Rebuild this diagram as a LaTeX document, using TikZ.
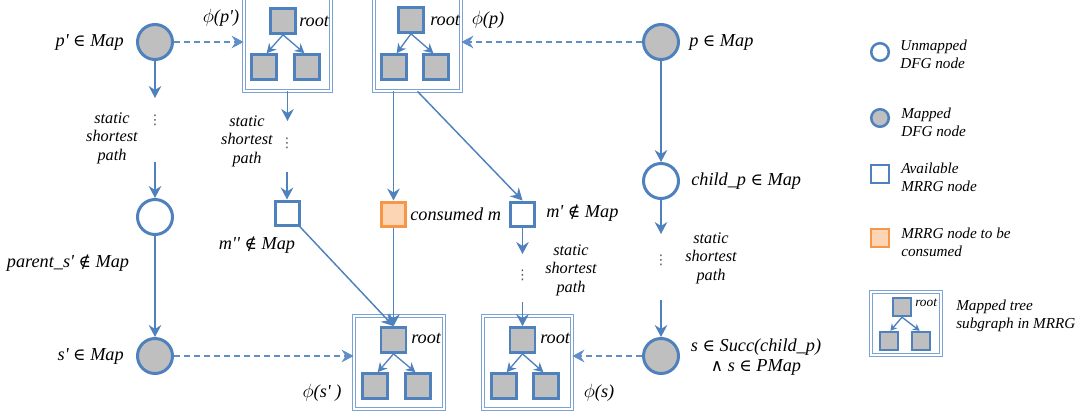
\documentclass[tikz,border=0pt]{standalone}
\usepackage{fontspec}
\setmainfont{Liberation Serif}
\newfontfamily\symf[Scale=0.92]{DejaVu Serif}
\newfontfamily\dotf{DejaVu Sans}
\usetikzlibrary{arrows.meta}
\definecolor{myblue}{RGB}{79,129,189}
\definecolor{dashblue}{RGB}{95,142,200}
\definecolor{boxblue}{RGB}{125,163,212}
\definecolor{mygray}{RGB}{191,191,191}
\definecolor{myorange}{RGB}{247,150,70}
\definecolor{lightorange}{RGB}{252,213,180}
\newcommand{\q}{\textquotesingle}
\newcommand{\isin}{{\symf ∈}}
\newcommand{\notinn}{{\symf ∉}}
\newcommand{\andd}{{\symf ∧}}
\tikzset{
  dfg/.style={circle, draw=myblue, line width=2.25pt, minimum size=26.25pt, inner sep=0pt},
  mapped/.style={dfg, fill=mygray},
  unmapped/.style={dfg, fill=white},
  sq/.style={rectangle, draw=myblue, line width=2.25pt, minimum size=18pt, inner sep=0pt},
  treesq/.style={sq, fill=mygray, line width=2pt, minimum size=18.75pt},
  availsq/.style={sq, fill=white},
  consq/.style={sq, draw=myorange, fill=lightorange},
  treebox/.style={rectangle, draw=boxblue, line width=0.6pt, double=white, double distance=1.6pt, inner sep=0pt},
  lbl/.style={font=\fontsize{13.7}{15.5}\selectfont\itshape, inner sep=0pt},
  small/.style={font=\fontsize{12.2}{13.9}\selectfont\itshape, align=center, inner sep=0pt},
  leg/.style={font=\fontsize{11.4}{13.6}\selectfont\itshape, align=left, inner sep=0pt, anchor=west},
  dotsn/.style={font=\dotf\fontsize{10}{11}\selectfont, inner sep=0pt, text=black!70},
  arr/.style={draw=myblue, line width=1.1pt, -{Stealth[length=9pt,width=9.5pt,inset=3pt]}},
  tarr/.style={draw=myblue, line width=1pt, -{Stealth[length=7pt,width=7.5pt,inset=2.3pt]}},
  larr/.style={draw=myblue, line width=1pt, -{Stealth[length=5pt,width=5.5pt,inset=1.6pt]}},
  darr/.style={draw=dashblue, line width=1.1pt, dash pattern=on 4.5pt off 3pt, -{Stealth[length=9pt,width=9.5pt,inset=3pt]}},
}
\begin{document}
\begin{tikzpicture}[x=0.75pt,y=-0.75pt]
\useasboundingbox (0,0) rectangle (1087,418);
\clip (0,0) rectangle (1087,418);

% ---------- DFG nodes ----------
\node[mapped]   (pp)  at (155,42)  {};
\node[unmapped] (par) at (155,217) {};
\node[mapped]   (sp)  at (155,356) {};
\node[mapped]   (p)   at (661,42)  {};
\node[unmapped] (ch)  at (661,181) {};
\node[mapped]   (s)   at (661,356) {};

% ---------- tree boxes ----------
\node[treebox, minimum width=65.25pt, minimum height=73.5pt] (boxpp) at (287.5,42) {};
\node[treebox, minimum width=65.25pt, minimum height=73.5pt] (boxp)  at (417.5,42) {};
\node[treebox, minimum width=67.5pt, minimum height=69.75pt] (boxsp) at (399,362.5) {};
\node[treebox, minimum width=66.75pt, minimum height=69.75pt] (boxs)  at (527.5,362.5) {};

% tree phi(p')
\node[treesq] (rpp) at (283,21) {};
\node[treesq] (lpp) at (264,67) {};
\node[treesq] (cpp) at (307,67) {};
% tree phi(p)
\node[treesq] (rp) at (411,20) {};
\node[treesq] (lp) at (394,67) {};
\node[treesq] (cp) at (436,67) {};
% tree phi(s')
\node[treesq] (rsp) at (393.5,340) {};
\node[treesq] (lsp) at (375,386) {};
\node[treesq] (csp) at (418,386) {};
% tree phi(s)
\node[treesq] (rs) at (522.5,340) {};
\node[treesq] (ls) at (504,386) {};
\node[treesq] (cs) at (546,386) {};

\foreach \r/\a/\b in {rpp/lpp/cpp, rp/lp/cp, rsp/lsp/csp, rs/ls/cs}{
  \draw[tarr] (\r.south) -- ([xshift=2pt]\a.north);
  \draw[tarr] (\r.south) -- ([xshift=-2pt]\b.north);
}

% ---------- MRRG nodes ----------
\node[availsq] (mpp)  at (287,213) {};
\node[consq]   (cons) at (393.5,214) {};
\node[availsq] (mp)   at (522.5,214) {};

% ---------- labels ----------
\node[lbl, anchor=east] (lpp1) at (124,42) {p\q{} \isin{} Map};
\node[lbl] (lphipp) at (221,18) {$\phi$(p\q)};
\node[lbl, anchor=west] (lrootpp) at (299,21) {root};
\node[lbl, anchor=west] (lrootp) at (430,20) {root};
\node[lbl] (lphip) at (488,20) {$\phi$(p)};
\node[lbl, anchor=west] (lp1) at (689,42) {p \isin{} Map};
\node[lbl, anchor=west] (lch) at (691,181) {child\_p \isin{} Map};
\node[lbl] (lpar) at (68,263) {parent\_s\q{} \notinn{} Map};
\node[lbl] (lmpp) at (257,245) {m\q\q{} \notinn{} Map};
\node[lbl, anchor=west] (lcons) at (410,214) {consumed m};
\node[lbl, anchor=west] (lmp) at (546,213) {m\q{} \notinn{} Map};
\node[lbl, anchor=east] (lsp1) at (124,356) {s\q{} \isin{} Map};
\node[lbl] (lphisp) at (322,393) {$\phi$(s\q{} )};
\node[lbl, anchor=west] (lrootsp) at (411,338) {root};
\node[lbl, anchor=west] (lroots) at (540,338) {root};
\node[lbl] (lphis) at (599,393) {$\phi$(s)};
\node[lbl, align=center] (ls1) at (756,357) {s \isin{} Succ(child\_p)\\[-1pt]\andd{} s \isin{} PMap};

% static shortest path texts and dots
\node[small] (t1) at (112,138) {static\\shortest\\path};
\node[small] (t2) at (247,141) {static\\shortest\\path};
\node[small] (t3) at (571,270) {static\\shortest\\path};
\node[small] (t4) at (711,258) {static\\shortest\\path};
\node[dotsn] (d1) at (155,120) {⋮};
\node[dotsn] (d2) at (287,143) {⋮};
\node[dotsn] (d3) at (522.5,275) {⋮};
\node[dotsn] (d4) at (661,260) {⋮};

% ---------- free ends ----------
\coordinate (a1) at (155,98);
\coordinate (a2) at (155,162);
\coordinate (b1) at (287.5,121);
\coordinate (b2) at (287,172);
\coordinate (c1) at (522.5,254);
\coordinate (c2) at (522.5,302);
\coordinate (e1) at (661,234);
\coordinate (e2) at (661,300);

% ---------- connectors ----------
\draw[arr] (pp) -- (a1);
\draw[arr] (a2) -- (par);
\draw[arr] (par) -- (sp);
\draw[arr] (boxpp.south) -- (b1);
\draw[arr] (b2) -- (mpp);
\draw[arr] (cons |- boxp.south) -- (cons);
\draw[arr] (boxp.south) -- (mp.north);
\draw[arr] (mp) -- (c1);
\draw[arr] (c2) -- (rs.north);
\draw[arr] (p) -- (ch);
\draw[arr] (ch) -- (e1);
\draw[arr] (e2) -- (s);
\draw[arr] (mpp) -- (rsp.north);
\draw[arr] (cons) -- (rsp.north);

\draw[darr] (pp.east) -- (pp.east -| boxpp.west);
\draw[darr] (p.west) -- (p.west -| boxp.east);
\draw[darr] (sp.east) -- (sp.east -| boxsp.west);
\draw[darr] (s.west) -- (s.west -| boxs.east);

% ---------- legend ----------
\node[unmapped, line width=1.9pt, minimum size=13.2pt] (g1) at (880,52) {};
\node[leg] (g1t) at (900,54) {Unmapped\\DFG node};
\node[mapped, line width=1.9pt, minimum size=13.2pt] (g2) at (880,118) {};
\node[leg] (g2t) at (901,122) {Mapped\\DFG node};
\node[availsq, line width=1.9pt, minimum size=13.5pt] (g3) at (880,174) {};
\node[leg] (g3t) at (901,177) {Available\\MRRG node};
\node[consq, line width=1.9pt, minimum size=13.5pt] (g4) at (880,238) {};
\node[leg] (g4t) at (901,242) {MRRG node to be\\consumed};
\node[treebox, minimum width=52.5pt, minimum height=47.25pt] (g5) at (906,323.5) {};
\node[treesq, line width=1.8pt, minimum size=13.5pt] (g5r) at (902,307) {};
\node[treesq, line width=1.8pt, minimum size=13.5pt] (g5l) at (889,341) {};
\node[treesq, line width=1.8pt, minimum size=13.5pt] (g5c) at (921,341) {};
\draw[larr] (g5r.south) -- ([xshift=1pt]g5l.north);
\draw[larr] (g5r.south) -- ([xshift=-1pt]g5c.north);
\node[font=\fontsize{10}{12}\selectfont\itshape, inner sep=0pt, anchor=west] (g5rt) at (915,303) {root};
\node[leg] (g5t) at (956,316) {Mapped tree\\subgraph in MRRG};
\end{tikzpicture}
\end{document}
